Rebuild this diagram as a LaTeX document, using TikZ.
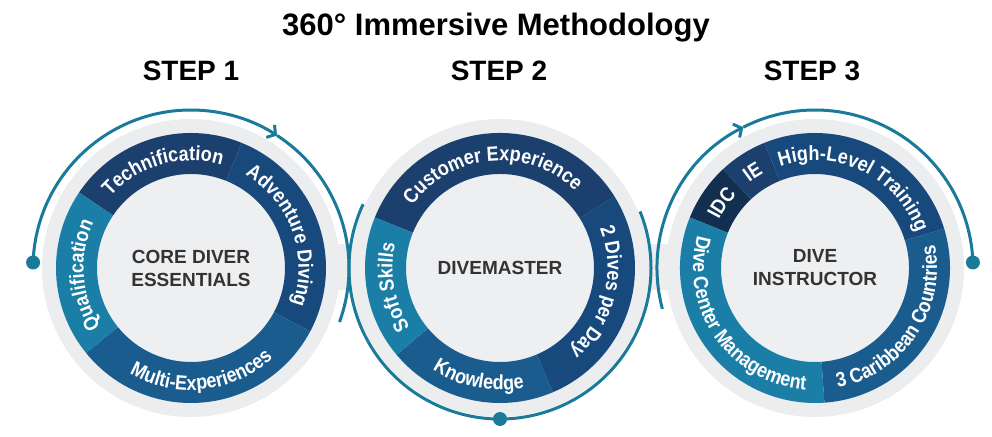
\documentclass[tikz,border=0pt]{standalone}
\usepackage{fontspec}
\setmainfont{Liberation Sans}
\newfontfamily\ringfam{Liberation Sans}[FakeStretch=0.88]
\usetikzlibrary{decorations.text,arrows.meta}
\definecolor{halo}{HTML}{ECEDEF}
\definecolor{inner}{HTML}{EEEFF1}
\definecolor{pathc}{HTML}{1A7A9A}
\definecolor{navyA}{HTML}{122F50}
\definecolor{navyB}{HTML}{1C406D}
\definecolor{blueC}{HTML}{17497C}
\definecolor{blueD}{HTML}{1A5C8E}
\definecolor{tealE}{HTML}{1B7EA6}
\definecolor{centretext}{HTML}{333333}
\newcommand\ringfont{\ringfam\fontsize{20.5}{20.5}\selectfont\bfseries\color{white}}
\newcommand\ringseg[3]{%
  \fill[#3] (#1:135) arc[start angle=#1,end angle=#2,radius=135] -- (#2:94) arc[start angle=#2,end angle=#1,radius=94] -- cycle;}
\newcommand\cwlabel[2]{%
  \path[decorate,decoration={text along path,text={|\ringfont|#2},text align=center}]
    ({#1+90}:107.5) arc[start angle={#1+90},end angle={#1-90},radius=107.5];}
\newcommand\ccwlabel[2]{%
  \path[decorate,decoration={text along path,text={|\ringfont|#2},text align=center}]
    ({#1-90}:122) arc[start angle={#1-90},end angle={#1+90},radius=122];}
\tikzset{
  pathline/.style={draw=pathc,line width=3pt},
  barb/.style={-{Straight Barb[length=6pt,width=15pt,line width=3pt]}},
  enddot/.style={fill=pathc},
  titletext/.style={font=\fontsize{31}{31}\selectfont\bfseries,text=black},
  steptext/.style={font=\fontsize{28}{28}\selectfont\bfseries,text=black},
  centre/.style={font=\fontsize{19}{23}\selectfont\bfseries,text=centretext,align=center}
}
\begin{document}
\begin{tikzpicture}[x=1pt,y=1pt]
\useasboundingbox (0,0) rectangle (992,436);
% bridges between halos
\fill[halo] (191,146) rectangle (815,192);
% ---------- circle 1 ----------
\begin{scope}[shift={(191,168)}]
  \fill[halo] (0,0) circle[radius=149];
  \fill[inner] (0,0) circle[radius=94];
  \ringseg{68}{146}{navyB}
  \ringseg{-28}{68}{blueC}
  \ringseg{219}{332}{blueD}
  \ringseg{146}{219}{tealE}
  \cwlabel{106}{Technification}
  \cwlabel{20}{Adventure Diving}
  \ccwlabel{276}{Multi-Experiences}
  \cwlabel{184}{Qualification}
  \node[centre] (core) at (0,0) {CORE DIVER\\ESSENTIALS};
  \coordinate (dot1) at (178:158);
  \draw[pathline,barb] (dot1) arc[start angle=178,end angle=57,radius=158];
  \draw[pathline] (57:158) arc[start angle=57,end angle=-20,radius=158];
  \fill[enddot] (dot1) circle[radius=7];
\end{scope}
% ---------- circle 2 ----------
\begin{scope}[shift={(500,168)}]
  \fill[halo] (0,0) circle[radius=149];
  \fill[inner] (0,0) circle[radius=94];
  \ringseg{32}{158}{navyB}
  \ringseg{-67}{32}{blueC}
  \ringseg{220}{293}{blueD}
  \ringseg{158}{220}{tealE}
  \cwlabel{95}{Customer Experience}
  \cwlabel{-14}{2 Dives per Day}
  \ccwlabel{259}{Knowledge}
  \cwlabel{190}{Soft Skills}
  \node[centre] (dm) at (0,0) {DIVEMASTER};
  \coordinate (p2a) at (155:151);
  \coordinate (dot2) at (270:151);
  \draw[pathline] (p2a) arc[start angle=155,end angle=382,radius=151];
  \fill[enddot] (dot2) circle[radius=7];
\end{scope}
% ---------- circle 3 ----------
\begin{scope}[shift={(815,168)}]
  \fill[halo] (0,0) circle[radius=149];
  \fill[inner] (0,0) circle[radius=94];
  \ringseg{133}{158}{navyA}
  \ringseg{112}{133}{navyB}
  \ringseg{17}{112}{blueC}
  \ringseg{-86}{17}{blueD}
  \ringseg{158}{274}{tealE}
  \cwlabel{145}{IDC}
  \cwlabel{123}{IE}
  \cwlabel{64}{High-Level Training}
  \ccwlabel{-34}{3 Caribbean Countries}
  \ccwlabel{215}{Dive Center Management}
  \node[centre] (di) at (0,0) {DIVE\\INSTRUCTOR};
  \coordinate (p3a) at (195:158);
  \coordinate (dot3) at (2:158);
  \draw[pathline,barb] (p3a) arc[start angle=195,end angle=117,radius=158];
  \draw[pathline] (117:158) arc[start angle=117,end angle=2,radius=158];
  \fill[enddot] (dot3) circle[radius=7];
\end{scope}
% ---------- titles ----------
\node[titletext] (title) at (496,408) {360° Immersive Methodology};
\node[steptext] (s1) at (191,365) {STEP 1};
\node[steptext] (s2) at (499,365) {STEP 2};
\node[steptext] (s3) at (812,365) {STEP 3};
\end{tikzpicture}
\end{document}
